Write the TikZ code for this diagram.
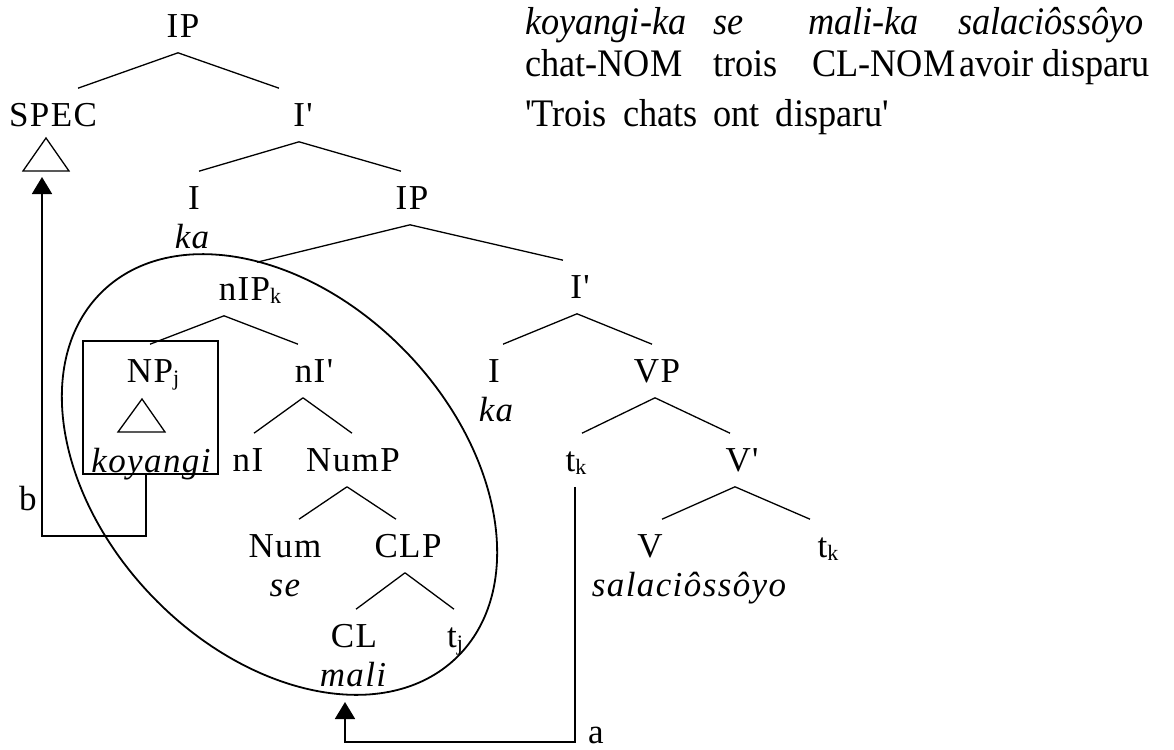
\documentclass[tikz,border=0pt]{standalone}
\usepackage{fontspec}
\usepackage{graphicx}
\setmainfont{Liberation Serif}[Ligatures=TeXOff,LetterSpace=4]
\newfontfamily\glossfont{Liberation Serif}[Ligatures=TeXOff,FakeStretch=0.93]
\usetikzlibrary{arrows.meta}
\newcommand{\treesize}{\fontsize{35}{42}\selectfont}
\newcommand{\glosssize}{\fontsize{39}{46}\selectfont}
\newcommand{\sub}[1]{\raisebox{-3pt}{\fontsize{22}{22}\selectfont #1}}
\newcommand{\branch}[4]{\draw[edge] ([xshift=#2pt]#1.south) -- ([xshift=#4pt]#3.north);}
\tikzset{
  cat/.style={inner xsep=0pt, inner ysep=15pt, text height=23.2pt, text depth=0pt, font=\treesize},
  lex/.style={inner sep=0pt, anchor=base, font=\treesize\itshape},
  gloss/.style={inner sep=0pt, anchor=base west, font=\glossfont\glosssize},
  edge/.style={line width=1.3pt},
  move/.style={-{Triangle[length=17pt,width=20pt]}, line width=1.8pt},
  frame/.style={draw, line width=1.5pt, inner sep=0pt}
}

\begin{document}
\begin{tikzpicture}[x=1pt,y=-1pt]
  \useasboundingbox (0,0) rectangle (1174,749);

  % upper tree
  \node[cat] (ipT) at (183,26) {IP};
  \node[cat] (spec) at (53,115) {SPEC};
  \node[cat] (ibarA) at (303,115) {I'};
  \node[cat] (iA) at (194,198) {I};
  \node[lex] (kaA) at (192,248) {ka};
  \node[cat] (ipB) at (412,198) {IP};

  % noun phrase
  \node[cat] (nip) at (250,289) {nIP\sub{k}};
  \node[cat] (np) at (153,371) {NP\sub{j}};
  \node[frame, minimum width=135pt, minimum height=133pt] (npbox) at (150.5,407.5) {};
  \node[lex] (koyangi) at (151,472) {koyangi};
  \node[cat] (nibar) at (314,371) {nI'};
  \node[cat] (ni) at (248,460) {nI};
  \node[cat] (nump) at (353,460) {NumP};
  \node[cat] (num) at (285,546) {Num};
  \node[lex] (se) at (285,596) {se};
  \node[cat] (clp) at (408,546) {CLP};
  \node[cat] (cl) at (354,636) {CL};
  \node[lex] (mali) at (353,686) {mali};
  \node[cat] (tj) at (455,636) {t\sub{j}};

  % verb phrase
  \node[cat] (ibarB) at (580,287) {I'};
  \node[cat] (iB) at (494,371) {I};
  \node[lex] (kaB) at (496,421) {ka};
  \node[cat] (vp) at (657,371) {VP};
  \node[cat] (tkA) at (576,460) {t\sub{k}};
  \node[cat] (vbar) at (742,460) {V'};
  \node[cat] (v) at (650,546) {V};
  \node[lex] (verb) at (689,596) {salaciôssôyo};
  \node[cat] (tkB) at (828,546) {t\sub{k}};

  \branch{ipT}{-5}{spec}{25}
  \branch{ipT}{-5}{ibarA}{-24}
  \branch{ibarA}{-4}{iA}{5}
  \branch{ibarA}{-4}{ipB}{-11}
  \branch{ipB}{-2}{nip}{7}
  \branch{ipB}{-2}{ibarB}{-17}
  \branch{nip}{-26}{np}{-3}
  \branch{nip}{-26}{nibar}{-16}
  \branch{nibar}{-11}{ni}{6}
  \branch{nibar}{-11}{nump}{-1}
  \branch{nump}{-6}{num}{14}
  \branch{nump}{-6}{clp}{-12}
  \branch{clp}{-3}{cl}{2}
  \branch{clp}{-3}{tj}{-1}
  \branch{ibarB}{-3}{iB}{9}
  \branch{ibarB}{-3}{vp}{-5}
  \branch{vp}{-2}{tkA}{6}
  \branch{vp}{-2}{vbar}{-12}
  \branch{vbar}{-7}{v}{12}
  \branch{vbar}{-7}{tkB}{-18}

  % triangles
  \draw[edge] (46,138) -- (23,171) -- (69,171) -- cycle;
  \draw[edge] (142,399) -- (118,432) -- (165,432) -- cycle;

  \draw[line width=1.8pt, rotate around={-46:(279.5,474.5)}]
    (279.5,474.5) ellipse [x radius=254.7pt, y radius=176.2pt];

  % movement
  \coordinate (specTip) at (42,177);
  \coordinate (maliTip) at (345,702);
  \draw[move] ([xshift=-4.5pt]npbox.south) -- ++(0,61) -| (specTip);
  \draw[move] ([xshift=-1pt]tkA.south) -- ++(0,255) -| (maliTip);
  \node[lex, font=\treesize] (labB) at (28,510) {b};
  \node[lex, font=\treesize, anchor=base west] (labA) at (588,743) {a};

  % gloss
  \node[gloss, font=\glossfont\glosssize\itshape] (wA) at (525,35) {koyangi-ka};
  \node[gloss, font=\glossfont\glosssize\itshape] (wB) at (713,35) {se};
  \node[gloss, font=\glossfont\glosssize\itshape] (wC) at (808,35) {mali-ka};
  \node[gloss, font=\glossfont\glosssize\itshape] (wD) at (958,35) {salaciôssôyo};
  \node[gloss] (gA) at (525,77) {chat-NOM};
  \node[gloss] (gB) at (713,77) {trois};
  \node[gloss] (gC) at (812,77) {CL-NOM};
  \node[gloss] (gD) at (959,77) {avoir disparu};
  \node[gloss] (trans) at (525,126) {\spaceskip=16pt 'Trois chats ont disparu'};
\end{tikzpicture}
\end{document}
